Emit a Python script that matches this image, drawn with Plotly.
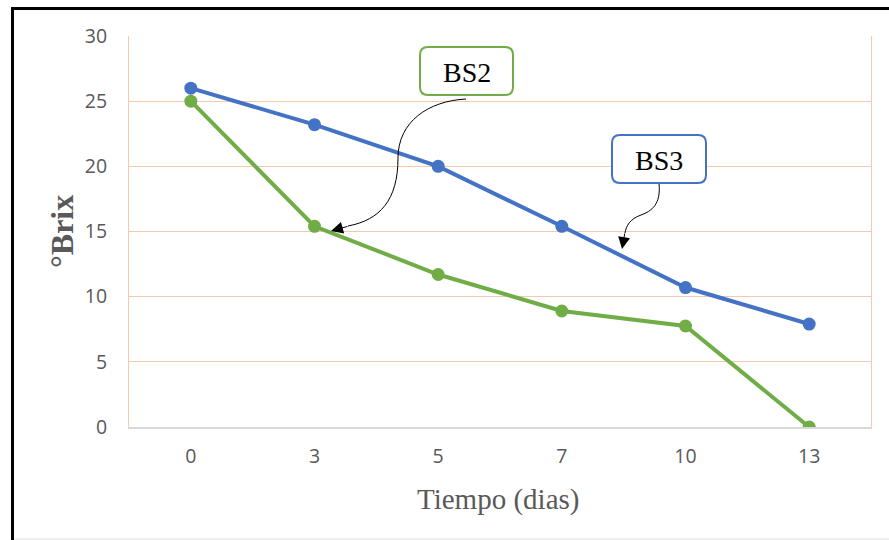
import plotly.graph_objects as go

dias = ["0", "3", "5", "7", "10", "13"]
bs3 = [26, 23.2, 20, 15.4, 10.7, 7.9]
bs2 = [25, 15.4, 11.7, 8.9, 7.75, 0]
y_ticks = [0, 5, 10, 15, 20, 25, 30]

BLUE = "#4472C4"
GREEN = "#70AD47"
GRID = "#F6C9AC"
TXT = "#595959"

W_PX, H_PX = 889, 540
L, R, T, B = 129, 871, 36, 427
PW, PH = R - L, B - T


def px(x):
    return (x - L) / PW


def py(y):
    return (B - y) / PH


def pt(x, y):
    return f"{px(x):.5f},{py(y):.5f}"


fig = go.Figure()
fig.add_trace(go.Scatter(x=dias, y=bs3, mode="lines+markers", name="BS3",
                         line=dict(color=BLUE, width=4),
                         marker=dict(color=BLUE, size=13)))
fig.add_trace(go.Scatter(x=dias, y=bs2, mode="lines+markers", name="BS2",
                         line=dict(color=GREEN, width=4),
                         marker=dict(color=GREEN, size=13)))


def rrect(x0, y0, x1, y1, r):
    return ("M " + pt(x0 + r, y0) + " L " + pt(x1 - r, y0) + " Q " + pt(x1, y0) + " " + pt(x1, y0 + r)
            + " L " + pt(x1, y1 - r) + " Q " + pt(x1, y1) + " " + pt(x1 - r, y1)
            + " L " + pt(x0 + r, y1) + " Q " + pt(x0, y1) + " " + pt(x0, y1 - r)
            + " L " + pt(x0, y0 + r) + " Q " + pt(x0, y0) + " " + pt(x0 + r, y0) + " Z")


shapes = []
# callout boxes
shapes.append(dict(type="path", xref="paper", yref="paper", path=rrect(420, 47, 513, 95, 8),
                   line=dict(color=GREEN, width=2), fillcolor="white", layer="above"))
shapes.append(dict(type="path", xref="paper", yref="paper", path=rrect(612, 135, 706, 183, 8),
                   line=dict(color=BLUE, width=2), fillcolor="white", layer="above"))
# connectors
shapes.append(dict(type="path", xref="paper", yref="paper",
                   path="M " + pt(466, 99) + " C " + pt(428, 101) + " " + pt(398, 122) + " " + pt(398, 158)
                   + " C " + pt(398, 200) + " " + pt(380, 220) + " " + pt(348, 226),
                   line=dict(color="black", width=1), layer="above"))
shapes.append(dict(type="path", xref="paper", yref="paper",
                   path="M " + pt(659, 184) + " C " + pt(661, 204) + " " + pt(652, 211) + " " + pt(641, 215)
                   + " C " + pt(630, 219) + " " + pt(626, 226) + " " + pt(625, 233),
                   line=dict(color="black", width=1), layer="above"))
# image frame
shapes.append(dict(type="line", xref="paper", yref="paper", x0=px(11), x1=px(889), y0=py(8.5), y1=py(8.5),
                   line=dict(color="black", width=3)))
shapes.append(dict(type="line", xref="paper", yref="paper", x0=px(12.5), x1=px(12.5), y0=py(7), y1=py(540),
                   line=dict(color="black", width=3)))
shapes.append(dict(type="line", xref="paper", yref="paper", x0=px(14), x1=px(889), y0=py(539), y1=py(539),
                   line=dict(color="#E0E0E0", width=1)))

C = dict(xref="paper", yref="paper", xanchor="center", yanchor="middle")
annotations = [
    dict(text="BS2", x=px(466.5), y=py(72), showarrow=False,
         font=dict(family="Liberation Serif", size=28, color="black"), **C),
    dict(text="BS3", x=px(659), y=py(160), showarrow=False,
         font=dict(family="Liberation Serif", size=28, color="black"), **C),
    dict(text="", x=px(331), y=py(231), showarrow=True,
         ax=18, ay=-5, arrowhead=2, arrowsize=2.4, arrowwidth=1, arrowcolor="black", standoff=0, **C),
    dict(text="", x=px(622), y=py(249), showarrow=True,
         ax=3, ay=-17, arrowhead=2, arrowsize=2.4, arrowwidth=1, arrowcolor="black", standoff=0, **C),
    dict(text="Tiempo (dias)", x=px(498), y=py(499), showarrow=False,
         font=dict(family="Liberation Serif", size=29, color=TXT), **C),
    dict(text="<b>°Brix</b>", x=px(62), y=py(232), showarrow=False,
         textangle=-90, font=dict(family="Liberation Serif", size=32, color=TXT), **C),
]

fig.update_layout(
    width=W_PX, height=H_PX,
    margin=dict(l=L, r=W_PX - R, t=T, b=H_PX - B),
    paper_bgcolor="white", plot_bgcolor="white",
    showlegend=False,
    shapes=shapes, annotations=annotations,
    xaxis=dict(type="category", range=[-0.5, 5.5], showgrid=False, zeroline=False,
               showline=True, linecolor="#D9D9D9", linewidth=2, ticks="",
               ticklabelstandoff=11,
               tickfont=dict(family="Open Sans", size=19.5, color=TXT)),
    yaxis=dict(range=[0, 30], tickvals=y_ticks, showgrid=True, gridcolor=GRID, gridwidth=1,
               zeroline=False, showline=True, mirror=True, linecolor=GRID, linewidth=1,
               ticks="", ticklabelstandoff=17,
               tickfont=dict(family="Open Sans", size=19.5, color=TXT)),
)

fig.write_html("out.html")
